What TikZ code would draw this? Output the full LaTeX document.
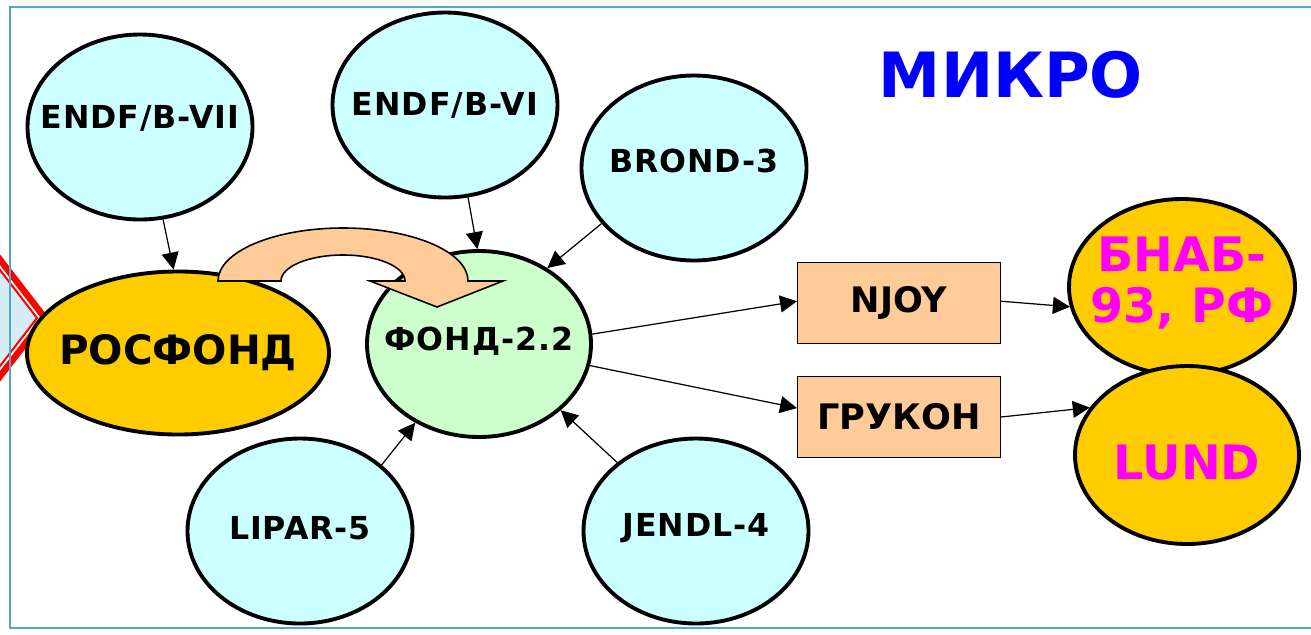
\documentclass[tikz,border=0pt]{standalone}
\usepackage{fontspec}
\setmainfont{DejaVu Sans}
\usetikzlibrary{shapes.geometric}
\usetikzlibrary{arrows.meta}

\definecolor{libfill}{HTML}{CCFFFF}
\definecolor{fondfill}{HTML}{CCFFCC}
\definecolor{gold}{HTML}{FFCC00}
\definecolor{peach}{HTML}{FFCC99}
\definecolor{framecol}{HTML}{4BACC6}
\definecolor{diamfill}{HTML}{D5EDF4}
\definecolor{pinktext}{HTML}{FF00FF}
\definecolor{bluetext}{HTML}{0000FF}
\newcommand{\nm}[2][0mm]{\makebox[0pt]{\raisebox{#1}[\height][\depth]{#2}}}

\begin{document}
\begin{tikzpicture}[x=0.2mm,y=-0.2mm,
  base/.style={ellipse,draw,line width=2.2pt,inner sep=0pt},
  lib/.style={base,fill=libfill,minimum width=45mm,minimum height=37mm,
    font=\bfseries\fontsize{18}{20}\selectfont\addfontfeature{LetterSpace=3}},
  result/.style={base,fill=gold,text=pinktext,font=\bfseries\fontsize{27}{29}\selectfont},
  proc/.style={draw,fill=peach,line width=0.8pt,minimum width=40.5mm,minimum height=16.3mm,
    font=\bfseries\fontsize{20}{22}\selectfont},
  arr/.style={-{Triangle[length=3.4mm,width=3.4mm]},line width=0.7pt}]
\useasboundingbox (0,0) rectangle (1311,634);
\clip (0,0) rectangle (1311,634);

\filldraw[fill=white,draw=red,line width=1.3mm] (45,318) -- (-40,208) -- (-125,318) -- (-40,428) -- cycle;
\filldraw[fill=diamfill,draw=red,line width=0.4mm] (37,318) -- (-40,218) -- (-117,318) -- (-40,418) -- cycle;
\draw[framecol,line width=0.45mm] (10,7) rectangle (1330,628);

\node[lib] (endf7) at (140,127) {\nm[1.8mm]{ENDF/B-VII}};
\node[lib] (endf6) at (445,105) {\nm{ENDF/B-VI}};
\node[lib] (brond) at (694,168) {\nm[1.4mm]{BROND-3}};
\node[lib] (lipar) at (300,531) {\nm[0.6mm]{LIPAR-5}};
\node[lib] (jendl) at (696,531) {\nm[0.6mm]{JENDL-4}};
\node[base,fill=gold,minimum width=60.4mm,minimum height=32.6mm,
  font=\bfseries\fontsize{23}{25}\selectfont] (rosfond) at (178,353) {\nm{РОСФОНД}};
\node[base,fill=fondfill,minimum width=44.8mm,minimum height=37.2mm,
  font=\bfseries\fontsize{18}{20}\selectfont\addfontfeature{LetterSpace=3}] (fond) at (479,344) {\nm[0.6mm]{ФОНД-2.2}};
\node[proc] (njoy) at (899,303) {NJOY};
\node[proc] (grucon) at (899,417) {ГРУКОН};
\node[result,minimum width=45.2mm,minimum height=35.2mm] (bnab) at (1182,287)
  {\nm{\begin{tabular}{@{}c@{}}БНАБ-\\93, РФ\end{tabular}}};
\node[result,minimum width=44.8mm,minimum height=35.6mm] (lund) at (1187,455) {\nm[-1.6mm]{LUND}};
\node[text=bluetext,font=\bfseries\fontsize{35.5}{37}\selectfont] (mikro) at (1011,75) {МИКРО};

\path[arr]
  (endf7.-76) edge (rosfond.93)
  (endf6.-76) edge (fond.91)
  (brond.211) edge (fond.48)
  (lipar.39) edge (fond.231)
  (jendl.139) edge (fond.-39)
  (fond.5) edge (njoy.179)
  (fond.-11) edge (grucon.175)
  (njoy.1) edge (bnab.190)
  (grucon.east) edge (lund.154);

\draw[fill=peach,line width=0.9pt] (218,281)
  arc[start angle=180,end angle=0,x radius=25mm,y radius=10.6mm]
  -- (503,281) -- (437,307) -- (370,281) -- (405,281)
  arc[start angle=0,end angle=180,x radius=12.4mm,y radius=5.2mm] -- cycle;
\end{tikzpicture}
\end{document}
